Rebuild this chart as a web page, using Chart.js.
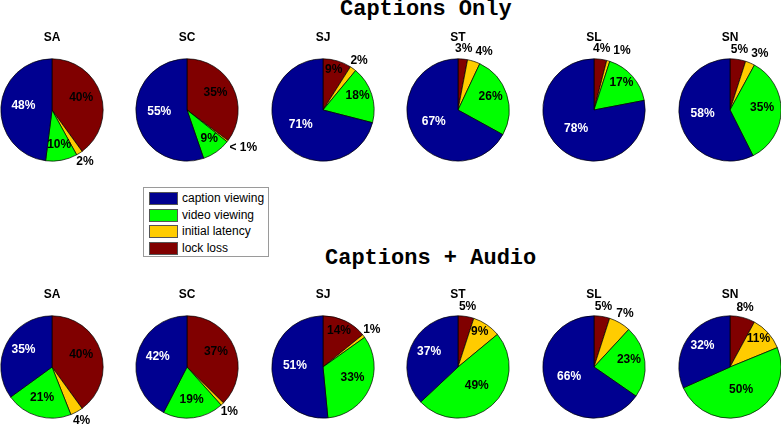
<!DOCTYPE html>
<html>
<head>
<meta charset="utf-8">
<script src="https://cdn.jsdelivr.net/npm/chart.js@4/dist/chart.umd.min.js"></script>
<style>
  html, body { margin: 0; padding: 0; background: #fff; }
  body { width: 781px; height: 426px; position: relative; overflow: hidden; }
  canvas { position: absolute; }
  .title { position: absolute; font: bold 22px 'Liberation Mono', 'Courier New', monospace; line-height: 22px; white-space: pre; color: #000; }
  #legend { position: absolute; left: 143px; top: 187px; width: 124px; height: 68px; border: 1px solid #9a9a9a; background: #fff; }
  .row { position: absolute; left: 5px; height: 13px; font: 12px 'Liberation Sans', Arial, sans-serif; line-height: 13px; white-space: nowrap; }
  .sw { display: inline-block; width: 27px; height: 11px; border: 1px solid #555; vertical-align: top; margin-right: 4px; }
</style>
</head>
<body>
<div class="title" id="t1" style="left:340px; top:-1px;"></div>
<div class="title" id="t2" style="left:325px; top:248px;"></div>
<div id="legend"></div>
<script>
// ── Datos ──
const titles    = ['Captions Only', 'Captions + Audio'];
const subjects  = ['SA', 'SC', 'SJ', 'ST', 'SL', 'SN'];
// orden de dibujo: horario desde las 12
const categories = ['lock loss', 'initial latency', 'video viewing', 'caption viewing'];
const colors     = ['#800000', '#FFCC00', '#00FF00', '#000090'];

const onlyLockLoss  = [40, 35,  9,  3,  4,  5];
const onlyLatency   = [ 2, 0.5, 2,  4,  1,  3];
const onlyVideo     = [10,  9, 18, 26, 17, 35];
const onlyCaption   = [48, 55, 71, 67, 78, 58];

const audioLockLoss = [40, 37, 14,  5,  5,  8];
const audioLatency  = [ 4,  1,  1,  9,  7, 11];
const audioVideo    = [21, 19, 33, 49, 23, 50];
const audioCaption  = [35, 42, 51, 37, 66, 32];

const FONT = "'Liberation Sans', Arial, Helvetica, sans-serif";
const R = 51.5;
const CW = 140, CH = 190, CX = 70, CY = 105;
const colX = [51.5, 187.1, 322.7, 458.3, 594, 729.5];
const rowY = [109.7, 366.7];

document.getElementById('t1').textContent = titles[0];
document.getElementById('t2').textContent = titles[1];

// ── Leyenda ──
const legend = document.getElementById('legend');
[3, 2, 1, 0].forEach((ci, k) => {
  const row = document.createElement('div');
  row.className = 'row';
  row.style.top = (4 + k * 16.67) + 'px';
  row.innerHTML = '<span class="sw" style="background:' + colors[ci] + '"></span>' + categories[ci];
  legend.appendChild(row);
});

const fmt = v => v < 1 ? '< 1%' : Math.round(v) + '%';

// ── Etiquetas de porcentaje + título de cada pastel ──
const pieText = {
  id: 'pieText',
  afterDatasetsDraw(chart, args, opts) {
    const { ctx } = chart;
    const data = chart.data.datasets[0].data;
    const total = data.reduce((a, b) => a + b, 0);
    const arcs = chart.getDatasetMeta(0).data;
    let cx = 0, cy = 0, rr = 0, prev = null;
    ctx.save();
    ctx.textAlign = 'center';
    ctx.textBaseline = 'middle';
    ctx.font = 'bold 12px ' + FONT;
    arcs.forEach((arc, i) => {
      const { x, y, startAngle, endAngle, outerRadius } =
        arc.getProps(['x', 'y', 'startAngle', 'endAngle', 'outerRadius'], true);
      cx = x; cy = y; rr = outerRadius;
      const v = data[i];
      const mid = (startAngle + endAngle) / 2;
      const txt = fmt(v);
      if (v >= 9) {
        const d = outerRadius * Math.max(0.55, 0.8 - 0.5 * v / total);
        ctx.fillStyle = i === 3 ? '#fff' : '#000';
        ctx.fillText(txt, x + d * Math.cos(mid), y + d * Math.sin(mid) - 3);
        return;
      }
      // fuera del pastel, a 1.2R; se aparta si choca con la anterior
      const w = ctx.measureText(txt).width;
      let lx = x + 1.2 * outerRadius * Math.cos(mid);
      const ly = y + 1.2 * outerRadius * Math.sin(mid);
      if (w > 18) lx += (w - 18) * Math.cos(mid);
      if (prev && Math.abs(prev.y - ly) < 12 && Math.abs(prev.x - lx) < (prev.w + w) / 2 + 3) {
        const gap = (prev.w + w) / 2 + 3;
        lx = Math.cos(mid) >= 0 ? prev.x + gap : prev.x - gap;
      }
      ctx.fillStyle = '#000';
      ctx.fillText(txt, lx, ly);
      prev = { x: lx, y: ly, w };
    });
    ctx.textBaseline = 'alphabetic';
    ctx.fillStyle = '#000';
    ctx.fillText(opts.title, cx, cy - rr - 18);
    ctx.restore();
  }
};

function makePie(row, col, values) {
  const cv = document.createElement('canvas');
  cv.width = CW; cv.height = CH;
  cv.style.left = (colX[col] - CX) + 'px';
  cv.style.top = (rowY[row] - CY) + 'px';
  document.body.appendChild(cv);
  new Chart(cv.getContext('2d'), {
    type: 'pie',
    data: {
      labels: categories,
      datasets: [{
        data: values,
        backgroundColor: colors,
        borderColor: '#000',
        borderWidth: 0.7,
      }],
    },
    options: {
      responsive: false,
      animation: false,
      layout: { padding: { left: CX - R, right: CW - CX - R, top: CY - R, bottom: CH - CY - R } },
      plugins: {
        legend: { display: false },
        tooltip: { enabled: false },
        pieText: { title: subjects[col] },
      },
    },
    plugins: [pieText],
  });
}

subjects.forEach((s, i) => {
  makePie(0, i, [onlyLockLoss[i], onlyLatency[i], onlyVideo[i], onlyCaption[i]]);
  makePie(1, i, [audioLockLoss[i], audioLatency[i], audioVideo[i], audioCaption[i]]);
});
</script>
</body>
</html>
